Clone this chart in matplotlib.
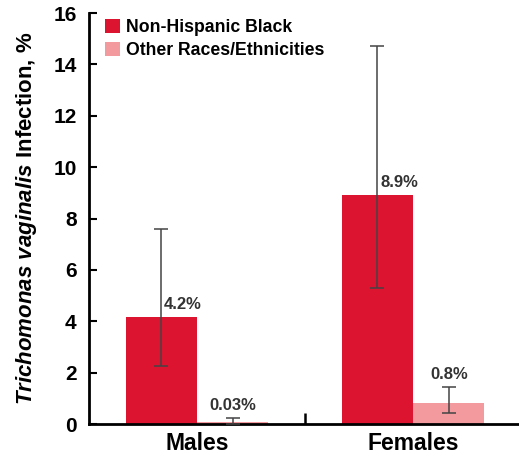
import matplotlib.pyplot as plt
import numpy as np

plt.rcParams["font.family"] = ["Liberation Sans", "DejaVu Sans"]
plt.rcParams["mathtext.fontset"] = "custom"
plt.rcParams["mathtext.bfit"] = "Liberation Sans:italic:bold"
plt.rcParams["mathtext.it"] = "Liberation Sans:italic"
plt.rcParams["mathtext.bf"] = "Liberation Sans:bold"
plt.rcParams["mathtext.rm"] = "Liberation Sans"

# ---------------------------------------------------------------------------
# Data
# ---------------------------------------------------------------------------
groups = ["Males", "Females"]
series = ["Non-Hispanic Black", "Other Races/Ethnicities"]
black_vals = [4.15, 8.9]
black_lo = [2.25, 5.3]
black_hi = [7.6, 14.7]
black_labels = ["4.2%", "8.9%"]
other_vals = [0.09, 0.8]
other_lo = [0.0, 0.42]
other_hi = [0.25, 1.45]
other_labels = ["0.03%", "0.8%"]

BLACK_COLOR = "#dc1430"
OTHER_COLOR = "#f29a9e"
ERR_COLOR = "#444444"
TEXT_COLOR = "#333333"

fig = plt.figure(figsize=(5.19, 4.58), dpi=100)
ax = fig.add_axes([0.1715, 0.0742, 0.8285, 0.8974])

x = np.arange(len(groups))
w = 0.33

bv = np.array(black_vals)
ov = np.array(other_vals)
ax.bar(x - w / 2, bv, w, color=BLACK_COLOR, label=series[0], zorder=2)
ax.bar(x + w / 2, ov, w, color=OTHER_COLOR, label=series[1], zorder=2)

berr = [bv - np.array(black_lo), np.array(black_hi) - bv]
oerr = [ov - np.array(other_lo), np.array(other_hi) - ov]
ax.errorbar(x - w / 2, bv, yerr=berr, fmt="none", ecolor=ERR_COLOR,
            elinewidth=1.1, capsize=4.7, capthick=1.1, zorder=3)
ax.errorbar(x + w / 2, ov, yerr=oerr, fmt="none", ecolor=ERR_COLOR,
            elinewidth=1.1, capsize=4.7, capthick=1.1, zorder=3)

# value labels
for xi, v, lab in zip(x - w / 2, bv, black_labels):
    ax.text(xi + 0.012, v + 0.2, lab, ha="left", va="bottom",
            fontsize=12, fontweight="bold", color=TEXT_COLOR)
label_tops = [0.42, 1.63]
for xi, t, lab in zip(x + w / 2, label_tops, other_labels):
    ax.text(xi, t, lab, ha="center", va="bottom",
            fontsize=12, fontweight="bold", color=TEXT_COLOR)

ax.set_xlim(-0.5, 1.49)
ax.set_ylim(0, 16)
ax.set_yticks(np.arange(0, 17, 2))
ax.tick_params(axis="y", direction="in", length=6, width=1.5,
               labelsize=15, pad=9)
for t in ax.get_yticklabels():
    t.set_fontweight("bold")

ax.set_xticks(x)
ax.set_xticklabels(groups, fontsize=16.5, fontweight="bold")
ax.tick_params(axis="x", length=0, pad=6)
ax.set_xticks([0.5], minor=True)
ax.tick_params(axis="x", which="minor", direction="in", length=8, width=1.8)

for s in ["top", "right"]:
    ax.spines[s].set_visible(False)
for s in ["left", "bottom"]:
    ax.spines[s].set_linewidth(2)

ax.set_ylabel(r"$\mathbfit{Trichomonas\ vaginalis}$ Infection, %",
              fontsize=16, fontweight="bold", labelpad=10)

leg = ax.legend(loc="upper left", bbox_to_anchor=(0.0, 1.025), frameon=False,
                handlelength=0.85, handleheight=0.85, handletextpad=0.35,
                labelspacing=0.35, prop={"weight": "bold", "size": 12.7})

fig.savefig("out.png", dpi=100)
